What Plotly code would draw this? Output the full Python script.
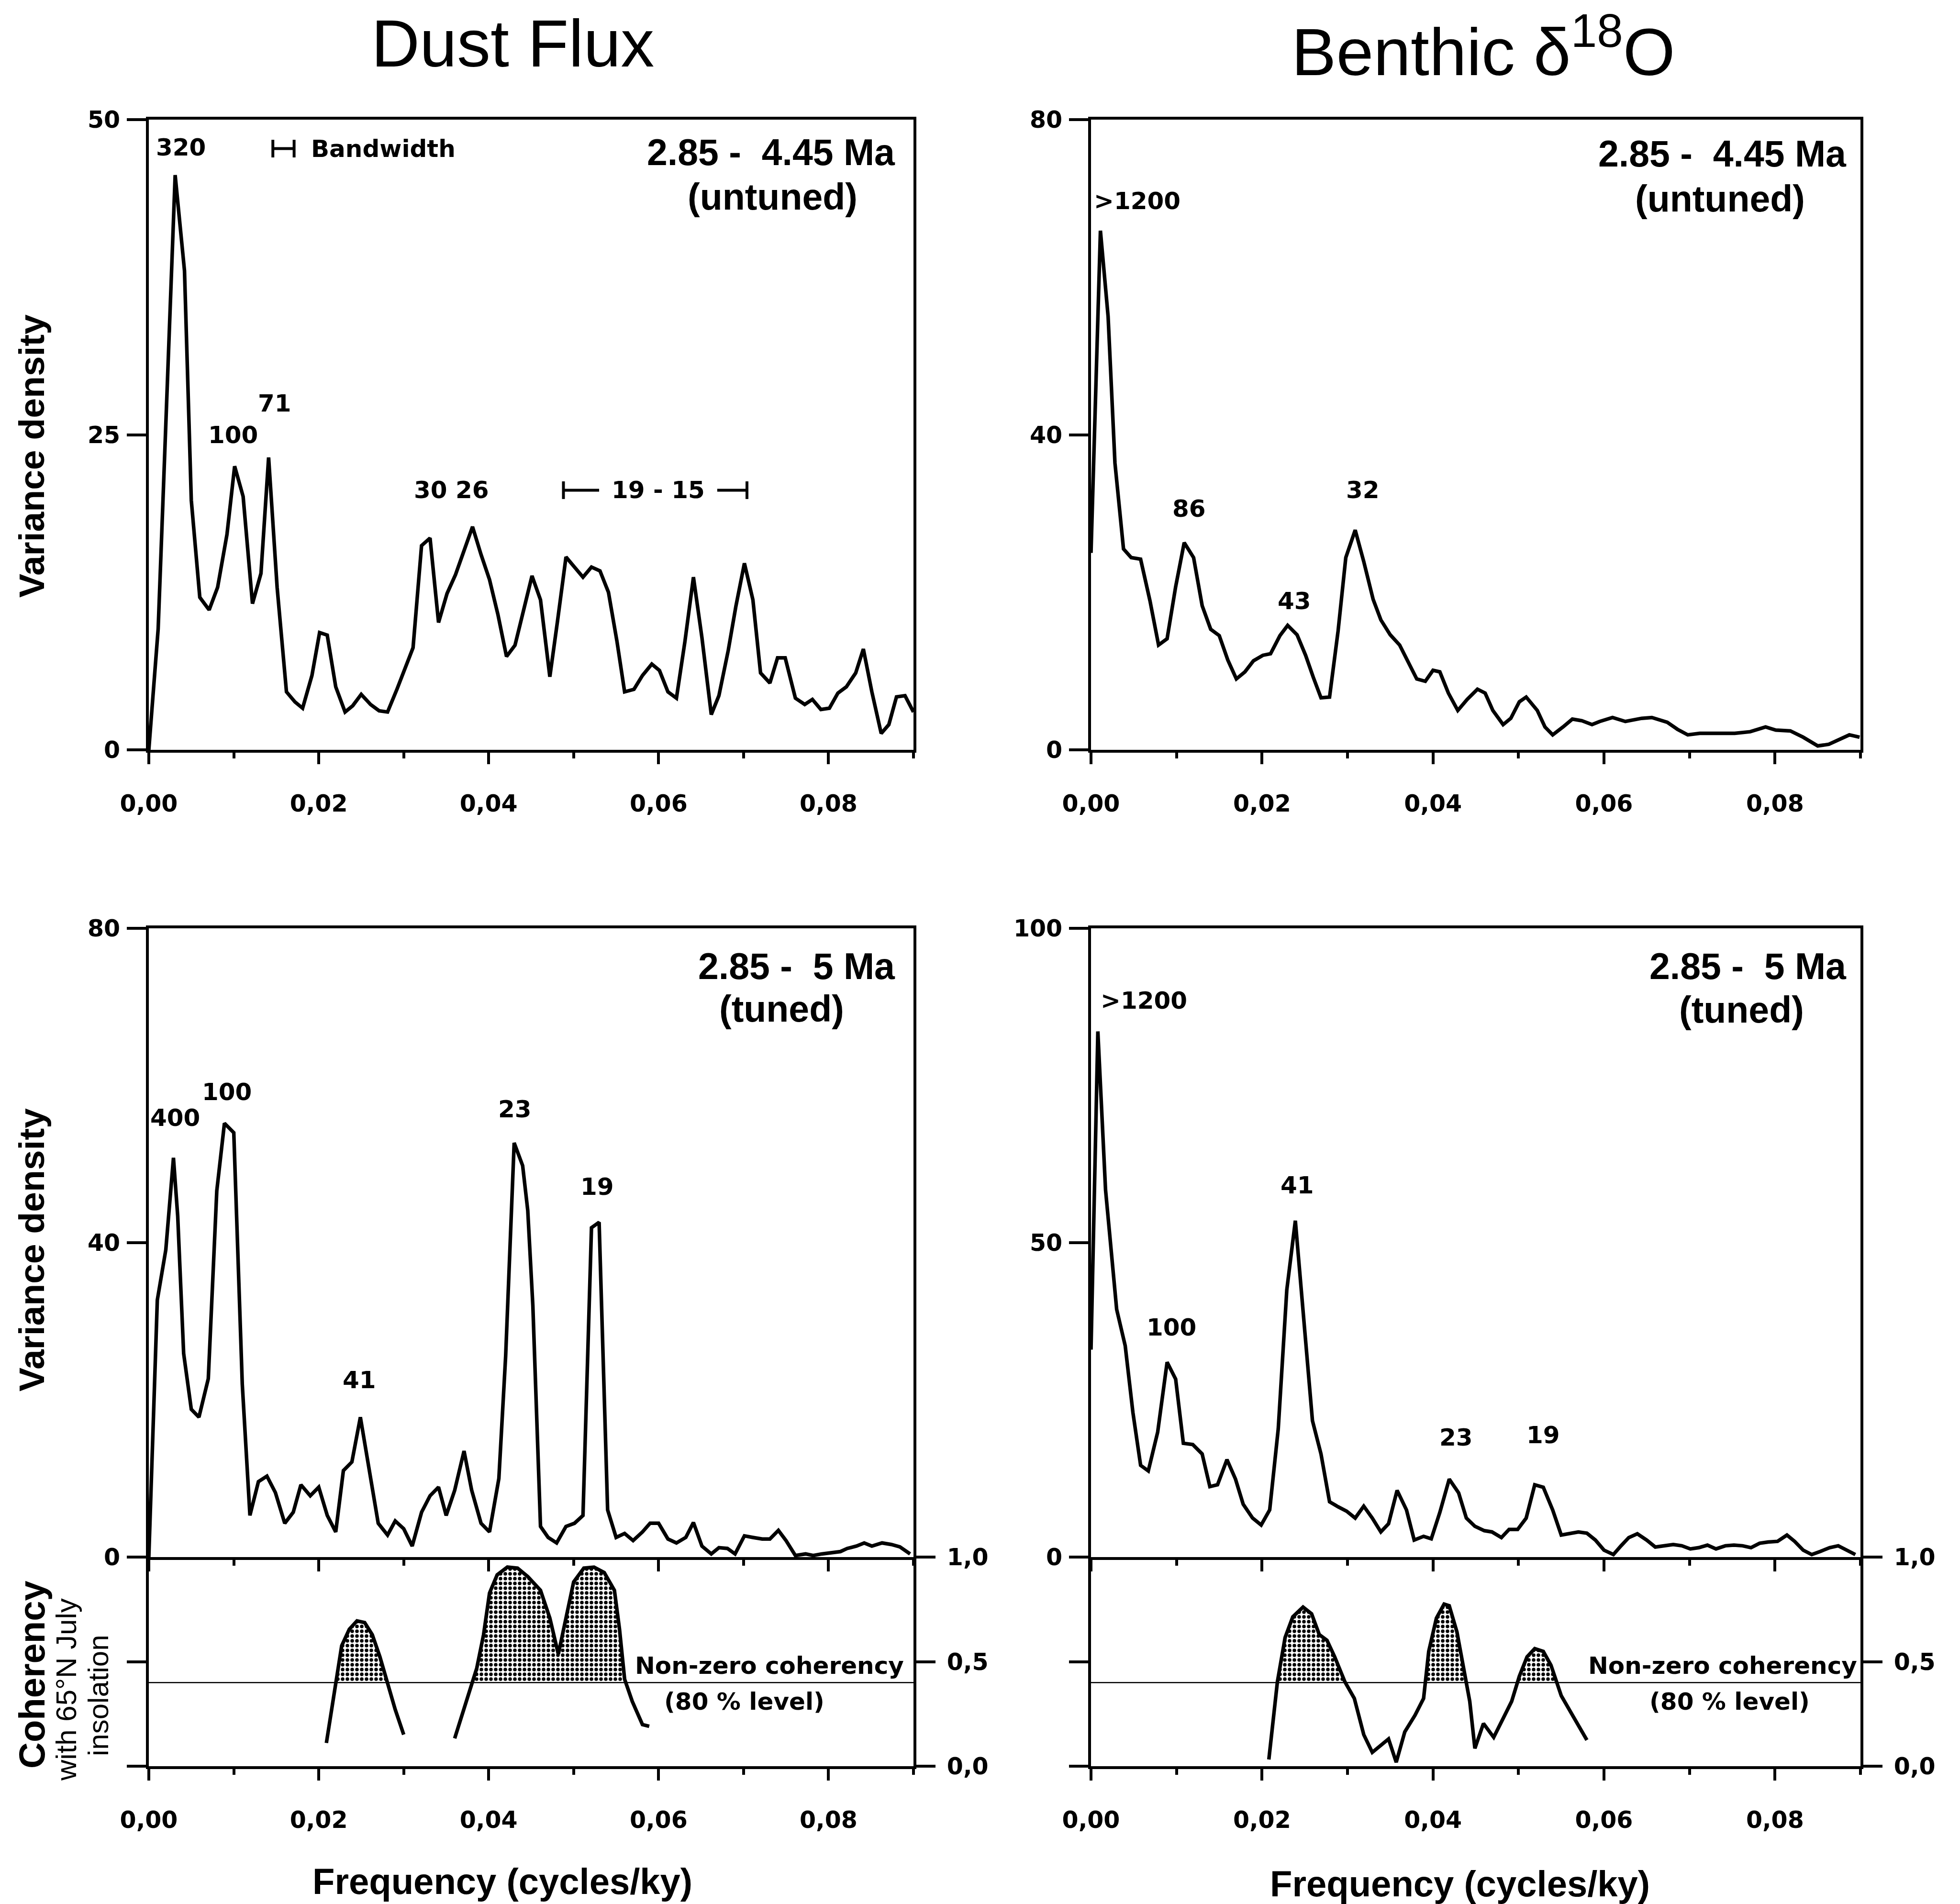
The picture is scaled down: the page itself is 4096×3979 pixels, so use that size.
import plotly.graph_objects as go

# ---------------- data ----------------
# Dust flux, 2.85-4.45 Ma (untuned)
F_DUST_UNTUNED = [0, 0.0011, 0.0031, 0.0042, 0.0050, 0.0060, 0.0071, 0.0081, 0.0092, 0.0101,
                  0.0111, 0.0122, 0.0132, 0.0141, 0.0151, 0.0162, 0.0172, 0.0181, 0.0192, 0.0201,
                  0.0210, 0.0220, 0.0231, 0.0240, 0.0250, 0.0261, 0.0271, 0.0281, 0.0292, 0.0301,
                  0.0311, 0.0321, 0.0331, 0.0341, 0.0351, 0.0361, 0.0371, 0.0381, 0.0391, 0.0401,
                  0.0411, 0.0421, 0.0431, 0.0441, 0.0451, 0.0461, 0.0472, 0.0481, 0.0491, 0.0501,
                  0.0511, 0.0521, 0.0531, 0.0541, 0.0551, 0.0560, 0.0571, 0.0581, 0.0592, 0.0601,
                  0.0611, 0.0621, 0.0631, 0.0641, 0.0651, 0.0662, 0.0671, 0.0682, 0.0691, 0.0701,
                  0.0711, 0.0720, 0.0731, 0.0740, 0.0749, 0.0761, 0.0772, 0.0781, 0.0791, 0.0801,
                  0.0811, 0.0821, 0.0832, 0.0841, 0.0851, 0.0862, 0.0871, 0.0880, 0.0890, 0.0900]
V_DUST_UNTUNED = [0, 9.6, 45.6, 38.0, 19.8, 12.1, 11.1, 12.9, 17.1, 22.5,
                  20.1, 11.6, 14.0, 23.2, 12.9, 4.6, 3.8, 3.3, 5.9, 9.3,
                  9.1, 5.0, 3.0, 3.5, 4.4, 3.6, 3.1, 3.0, 4.8, 6.4,
                  8.1, 16.2, 16.8, 10.1, 12.4, 13.9, 15.9, 17.7, 15.5, 13.5,
                  10.7, 7.4, 8.3, 11.1, 13.8, 11.9, 5.8, 10.2, 15.3, 14.5,
                  13.7, 14.5, 14.2, 12.5, 8.6, 4.6, 4.8, 5.9, 6.8, 6.3,
                  4.6, 4.1, 8.6, 13.7, 8.9, 2.8, 4.3, 7.9, 11.4, 14.8,
                  11.9, 6.1, 5.3, 7.3, 7.3, 4.1, 3.6, 4.0, 3.2, 3.3,
                  4.5, 5.0, 6.1, 8.0, 4.6, 1.3, 2.0, 4.2, 4.3, 3.0]

# Benthic d18O, 2.85-4.45 Ma (untuned)
F_O18_UNTUNED = [0, 0.0011, 0.0020, 0.0028, 0.0038, 0.0047, 0.0058, 0.0069, 0.0079, 0.0089,
                 0.0099, 0.0109, 0.0120, 0.0130, 0.0140, 0.0150, 0.0160, 0.0170, 0.0180, 0.0190,
                 0.0201, 0.0210, 0.0221, 0.0230, 0.0241, 0.0251, 0.0260, 0.0269, 0.0279, 0.0289,
                 0.0298, 0.0309, 0.0319, 0.0330, 0.0339, 0.0350, 0.0361, 0.0371, 0.0381, 0.0391,
                 0.0400, 0.0408, 0.0418, 0.0429, 0.0440, 0.0452, 0.0461, 0.0470, 0.0482, 0.0491,
                 0.0501, 0.0509, 0.0522, 0.0531, 0.0540, 0.0552, 0.0563, 0.0574, 0.0586, 0.0595,
                 0.0610, 0.0625, 0.0644, 0.0656, 0.0674, 0.0686, 0.0698, 0.0712, 0.0729, 0.0753,
                 0.0771, 0.0789, 0.0801, 0.0818, 0.0833, 0.0850, 0.0863, 0.0875, 0.0887, 0.0899]
V_O18_UNTUNED = [25, 65.9, 55.0, 36.4, 25.5, 24.4, 24.2, 18.9, 13.3, 14.1,
                 20.7, 26.3, 24.4, 18.3, 15.3, 14.5, 11.4, 9.0, 9.9, 11.3,
                 12.0, 12.2, 14.5, 15.8, 14.6, 12.0, 9.2, 6.6, 6.7, 15.1,
                 24.4, 27.9, 23.9, 19.1, 16.5, 14.6, 13.3, 11.2, 9.0, 8.7,
                 10.1, 9.9, 7.2, 5.0, 6.4, 7.7, 7.2, 5.0, 3.2, 4.0,
                 6.1, 6.7, 5.0, 2.9, 1.9, 2.9, 3.9, 3.7, 3.2, 3.6,
                 4.1, 3.6, 4.0, 4.1, 3.5, 2.6, 1.9, 2.1, 2.1, 2.1,
                 2.3, 2.9, 2.5, 2.4, 1.6, 0.5, 0.7, 1.3, 1.9, 1.6]

# Dust flux, 2.85-5 Ma (tuned)
F_DUST_TUNED = [0, 0.0010, 0.0020, 0.0029, 0.0034, 0.0041, 0.0050, 0.0059, 0.0070, 0.0080,
                0.0089, 0.0100, 0.0110, 0.0119, 0.0129, 0.0139, 0.0149, 0.0160, 0.0170, 0.0179,
                0.0190, 0.0200, 0.0210, 0.0220, 0.0229, 0.0239, 0.0249, 0.0260, 0.0270, 0.0281,
                0.0290, 0.0300, 0.0310, 0.0321, 0.0331, 0.0341, 0.0350, 0.0360, 0.0371, 0.0380,
                0.0391, 0.0401, 0.0412, 0.0420, 0.0430, 0.0440, 0.0446, 0.0452, 0.0461, 0.0470,
                0.0480, 0.0491, 0.0501, 0.0511, 0.0521, 0.0530, 0.0540, 0.0550, 0.0560, 0.0570,
                0.0581, 0.0590, 0.0600, 0.0611, 0.0621, 0.0632, 0.0641, 0.0651, 0.0662, 0.0671,
                0.0681, 0.0690, 0.0701, 0.0711, 0.0722, 0.0731, 0.0741, 0.0750, 0.0761, 0.0773,
                0.0782, 0.0792, 0.0803, 0.0814, 0.0822, 0.0833, 0.0842, 0.0851, 0.0863, 0.0874,
                0.0884, 0.0896]
V_DUST_TUNED = [0, 32.7, 39.1, 50.8, 43.4, 25.9, 18.8, 17.8, 22.7, 46.6,
                55.2, 54.0, 22.0, 5.3, 9.6, 10.3, 8.2, 4.3, 5.7, 9.2,
                7.8, 8.9, 5.3, 3.2, 11.0, 12.1, 17.8, 10.7, 4.3, 2.8,
                4.6, 3.6, 1.4, 5.7, 7.8, 8.9, 5.3, 8.5, 13.5, 8.5,
                4.3, 3.2, 10.0, 25.6, 52.7, 49.8, 44.1, 32.0, 3.9, 2.5,
                1.8, 3.9, 4.3, 5.3, 41.9, 42.6, 6.0, 2.5, 3.0, 2.1,
                3.2, 4.3, 4.3, 2.3, 1.8, 2.5, 4.4, 1.4, 0.4, 1.2,
                1.1, 0.4, 2.7, 2.5, 2.3, 2.3, 3.4, 2.1, 0.2, 0.4,
                0.2, 0.4, 0.6, 0.7, 1.1, 1.4, 1.8, 1.4, 1.8, 1.6,
                1.3, 0.4]

# Benthic d18O, 2.85-5 Ma (tuned)
F_O18_TUNED = [0, 0.0008, 0.0017, 0.0023, 0.0030, 0.0040, 0.0049, 0.0058, 0.0067, 0.0078,
               0.0089, 0.0099, 0.0108, 0.0119, 0.0130, 0.0139, 0.0148, 0.0159, 0.0169, 0.0178,
               0.0189, 0.0199, 0.0209, 0.0219, 0.0229, 0.0239, 0.0248, 0.0259, 0.0269, 0.0279,
               0.0289, 0.0299, 0.0309, 0.0319, 0.0329, 0.0339, 0.0348, 0.0358, 0.0369, 0.0378,
               0.0389, 0.0398, 0.0408, 0.0419, 0.0430, 0.0439, 0.0449, 0.0460, 0.0469, 0.0480,
               0.0489, 0.0499, 0.0509, 0.0519, 0.0529, 0.0540, 0.0550, 0.0560, 0.0570, 0.0580,
               0.0590, 0.0600, 0.0611, 0.0620, 0.0629, 0.0639, 0.0650, 0.0660, 0.0670, 0.0681,
               0.0691, 0.0701, 0.0711, 0.0721, 0.0731, 0.0742, 0.0752, 0.0762, 0.0772, 0.0782,
               0.0792, 0.0803, 0.0814, 0.0823, 0.0833, 0.0843, 0.0853, 0.0864, 0.0874, 0.0884,
               0.0894]
V_O18_TUNED = [33, 83.6, 58.4, 49.6, 39.4, 33.6, 23.0, 14.6, 13.7, 19.9,
               31.0, 28.3, 18.1, 17.9, 16.4, 11.2, 11.5, 15.5, 12.4, 8.4,
               6.2, 5.1, 7.5, 20.4, 42.5, 53.5, 39.8, 21.7, 16.4, 8.8,
               8.0, 7.3, 6.2, 8.1, 6.2, 4.0, 5.3, 10.6, 7.5, 2.7,
               3.3, 2.9, 7.1, 12.4, 10.2, 6.2, 4.9, 4.2, 4.0, 3.1,
               4.4, 4.4, 6.2, 11.5, 11.1, 7.5, 3.5, 3.8, 4.0, 3.8,
               2.7, 1.1, 0.4, 1.8, 3.1, 3.7, 2.7, 1.6, 1.8, 2.0,
               1.8, 1.3, 1.5, 1.9, 1.3, 1.8, 1.9, 1.8, 1.5, 2.2,
               2.4, 2.5, 3.5, 2.5, 1.1, 0.4, 0.9, 1.5, 1.8, 1.1,
               0.4]

# Coherency with 65N July insolation
COH_DUST_F1 = [0.0209, 0.0218, 0.0227, 0.0236, 0.0245, 0.0254, 0.0263, 0.0272, 0.0281, 0.0290, 0.0300]
COH_DUST_C1 = [0.111, 0.350, 0.576, 0.655, 0.695, 0.687, 0.629, 0.523, 0.390, 0.271, 0.151]
COH_DUST_F2 = [0.0360, 0.0374, 0.0386, 0.0394, 0.0401, 0.0410, 0.0422, 0.0434, 0.0446, 0.0461,
               0.0472, 0.0482, 0.0491, 0.0500, 0.0512, 0.0524, 0.0536, 0.0548, 0.0554, 0.0560,
               0.0569, 0.0581, 0.0589]
COH_DUST_C2 = [0.133, 0.310, 0.469, 0.629, 0.828, 0.915, 0.952, 0.947, 0.907, 0.841,
               0.708, 0.536, 0.708, 0.881, 0.947, 0.952, 0.926, 0.841, 0.655, 0.416,
               0.310, 0.199, 0.191]
COH_O18_F = [0.0208, 0.0218, 0.0227, 0.0236, 0.0248, 0.0258, 0.0267, 0.0276, 0.0285, 0.0297,
             0.0308, 0.0319, 0.0329, 0.0339, 0.0348, 0.0357, 0.0367, 0.0379, 0.0389, 0.0395,
             0.0404, 0.0413, 0.0419, 0.0428, 0.0436, 0.0443, 0.0449, 0.0459, 0.0471, 0.0481,
             0.0492, 0.0501, 0.0510, 0.0519, 0.0529, 0.0538, 0.0550, 0.0565, 0.0580]
COH_O18_C = [0.032, 0.403, 0.615, 0.714, 0.761, 0.729, 0.629, 0.602, 0.523, 0.403,
             0.324, 0.151, 0.066, 0.098, 0.130, 0.019, 0.164, 0.244, 0.324, 0.549,
             0.708, 0.775, 0.767, 0.642, 0.469, 0.310, 0.085, 0.204, 0.138, 0.218,
             0.310, 0.430, 0.523, 0.562, 0.549, 0.483, 0.337, 0.231, 0.125]
COH_THRESHOLD = 0.40          # non-zero coherency, 80 % level

# Axis ticks
X_TICKS = [0.00, 0.02, 0.04, 0.06, 0.08]
X_MINOR = [0.01, 0.03, 0.05, 0.07, 0.09]
Y_TICKS_TL = [0, 25, 50]
Y_TICKS_TR = [0, 40, 80]
Y_TICKS_BL = [0, 40, 80]
Y_TICKS_BR = [0, 50, 100]
COH_TICKS = [0.0, 0.5, 1.0]

# Peak labels (period in ky) and their positions
PK_TL_TXT = ["320", "100", "71", "30 26"]
PK_TL_F = [0.0038, 0.0099, 0.0148, 0.0356]
PK_TL_V = [47.8, 25.0, 27.5, 20.6]
PK_TR_TXT = [">1200", "86", "43", "32"]
PK_TR_F = [0.0054, 0.0115, 0.0238, 0.0318]
PK_TR_V = [69.7, 30.6, 18.9, 33.0]
PK_BL_TXT = ["400", "100", "41", "23", "19"]
PK_BL_F = [0.0031, 0.0092, 0.0248, 0.0431, 0.0528]
PK_BL_V = [55.9, 59.2, 22.5, 57.0, 47.1]
PK_BR_TXT = [">1200", "100", "41", "23", "19"]
PK_BR_F = [0.0062, 0.0094, 0.0241, 0.0427, 0.0529]
PK_BR_V = [88.5, 36.5, 59.1, 19.0, 19.4]

BANDWIDTH = [0.0146, 0.0171]
BAND_19_15 = [0.0488, 0.0530, 0.0669, 0.0704]

# ---------------- layout geometry (output pixels) ----------------
W, H = 4096, 3979
def fx(p):
    return p / W
def fy(p):
    return 1 - p / H

X_LEFT = [fx(311), fx(1909)]
X_RIGHT = [fx(2280), fx(3888)]
Y_TOP = [fy(1567), fy(250)]
Y_BSPEC = [fy(3254), fy(1940)]
Y_BCOH = [fy(3691), fy(3254)]

LW = 6
CW = 7.5
BLACK = "black"
TICKFONT = dict(family="DejaVu Sans", size=49, color=BLACK, weight="bold")
LABFONT = dict(family="DejaVu Sans", size=50, color=BLACK, weight="bold")

fig = go.Figure()

def line_trace(x, y, xa, ya, width=CW):
    return go.Scatter(x=x, y=y, xaxis=xa, yaxis=ya, mode="lines",
                      line=dict(color=BLACK, width=width), hoverinfo="skip", showlegend=False)

def above_polys(f, c, thr):
    xs, ys = [], []
    for i in range(len(f)):
        if i > 0 and (c[i - 1] - thr) * (c[i] - thr) < 0:
            t = (thr - c[i - 1]) / (c[i] - c[i - 1])
            xc = f[i - 1] + t * (f[i] - f[i - 1])
            xs.append(xc)
            ys.append(thr)
            if c[i] < thr:
                xs.append(None)
                ys.append(None)
        if c[i] > thr:
            xs.append(f[i])
            ys.append(c[i])
    return xs, ys

def fill_trace(f, c, xa, ya):
    xs, ys = above_polys(f, c, COH_THRESHOLD)
    return go.Scatter(x=xs, y=ys, xaxis=xa, yaxis=ya, mode="lines", fill="toself",
                      line=dict(width=0, color="rgba(0,0,0,0)"),
                      fillcolor="white",
                      fillpattern=dict(shape=".", size=10, solidity=0.45,
                                       fgcolor=BLACK, bgcolor="white", fillmode="replace"),
                      hoverinfo="skip", showlegend=False)

# spectra
fig.add_trace(line_trace(F_DUST_UNTUNED, V_DUST_UNTUNED, "x", "y"))
fig.add_trace(line_trace(F_O18_UNTUNED, V_O18_UNTUNED, "x2", "y2"))
fig.add_trace(line_trace(F_DUST_TUNED, V_DUST_TUNED, "x3", "y3"))
fig.add_trace(line_trace(F_O18_TUNED, V_O18_TUNED, "x5", "y5"))

# coherency
fig.add_trace(fill_trace(COH_DUST_F1, COH_DUST_C1, "x4", "y4"))
fig.add_trace(fill_trace(COH_DUST_F2, COH_DUST_C2, "x4", "y4"))
fig.add_trace(fill_trace(COH_O18_F, COH_O18_C, "x6", "y6"))
fig.add_trace(line_trace([0, 0.09], [COH_THRESHOLD, COH_THRESHOLD], "x4", "y4", width=2.5))
fig.add_trace(line_trace([0, 0.09], [COH_THRESHOLD, COH_THRESHOLD], "x6", "y6", width=2.5))
fig.add_trace(line_trace(COH_DUST_F1, COH_DUST_C1, "x4", "y4"))
fig.add_trace(line_trace(COH_DUST_F2, COH_DUST_C2, "x4", "y4"))
fig.add_trace(line_trace(COH_O18_F, COH_O18_C, "x6", "y6"))

def xaxis(domain, anchor, labels=True, mirror=False):
    return dict(domain=domain, anchor=anchor, range=[0, 0.09], showgrid=False, zeroline=False,
                automargin=False,
                showline=True, linecolor=BLACK, linewidth=LW, mirror=mirror,
                ticks="outside", tickcolor=BLACK, tickwidth=LW, ticklen=24,
                tickmode="array", tickvals=X_TICKS, tickformat=".2f",
                showticklabels=labels, tickfont=TICKFONT, ticklabelstandoff=40,
                minor=dict(tickmode="array", tickvals=X_MINOR, ticks="outside",
                           ticklen=12, tickwidth=LW, tickcolor=BLACK))

def yaxis(domain, anchor, rng, tv):
    return dict(domain=domain, anchor=anchor, range=rng, showgrid=False, zeroline=False,
                automargin=False,
                showline=True, linecolor=BLACK, linewidth=LW, mirror=True,
                ticks="outside", tickcolor=BLACK, tickwidth=LW, ticklen=40,
                tickmode="array", tickvals=tv, tickfont=TICKFONT, ticklabelstandoff=4)

def cohaxis(domain, anchor):
    return dict(domain=domain, anchor=anchor, range=[0, 1], side="right", showgrid=False,
                zeroline=False, automargin=False,
                showline=True, linecolor=BLACK, linewidth=LW, mirror="ticks",
                ticks="outside", tickcolor=BLACK, tickwidth=LW, ticklen=40,
                tickmode="array", tickvals=COH_TICKS, tickformat=".1f", tickfont=TICKFONT,
                ticklabelstandoff=14)

fig.update_layout(
    width=W, height=H, margin=dict(l=0, r=0, t=0, b=0, pad=0, autoexpand=False),
    paper_bgcolor="white", plot_bgcolor="white", separators=", ",
    showlegend=False,
    xaxis=xaxis(X_LEFT, "y", True, True),
    yaxis=yaxis(Y_TOP, "x", [0, 50], Y_TICKS_TL),
    xaxis2=xaxis(X_RIGHT, "y2", True, True),
    yaxis2=yaxis(Y_TOP, "x2", [0, 80], Y_TICKS_TR),
    xaxis3=xaxis(X_LEFT, "y3", False, True),
    yaxis3=yaxis(Y_BSPEC, "x3", [0, 80], Y_TICKS_BL),
    xaxis4=xaxis(X_LEFT, "y4", True, False),
    yaxis4=cohaxis(Y_BCOH, "x4"),
    xaxis5=xaxis(X_RIGHT, "y5", False, True),
    yaxis5=yaxis(Y_BSPEC, "x5", [0, 100], Y_TICKS_BR),
    xaxis6=xaxis(X_RIGHT, "y6", True, False),
    yaxis6=cohaxis(Y_BCOH, "x6"),
)

anns = []
def ann(text, x, y, xref, yref, font, xanchor="center", yanchor="middle", angle=0):
    anns.append(dict(text=text, x=x, y=y, xref=xref, yref=yref, showarrow=False, font=font,
                     xanchor=xanchor, yanchor=yanchor, textangle=angle))

SANS = "Liberation Sans, Arial, sans-serif"
TITLEFONT = dict(family=SANS, size=140, color=BLACK)
BOLD76 = dict(family=SANS, size=77, color=BLACK, weight="bold")
AXTITLE = dict(family=SANS, size=75, color=BLACK, weight="bold")

ann("Dust Flux", fx(1071), fy(91), "paper", "paper", TITLEFONT)
ann("Benthic δ<sup>18</sup>O", fx(3100), fy(98), "paper", "paper", TITLEFONT)

NB = "\u00a0"
# period range labels
ann("2.85 -" + NB + " 4.45 Ma", 0.0880, 47.4, "x", "y", BOLD76, xanchor="right")
ann("(untuned)", 0.0734, 43.9, "x", "y", BOLD76)
ann("2.85 -" + NB + " 4.45 Ma", 0.0885, 75.7, "x2", "y2", BOLD76, xanchor="right")
ann("(untuned)", 0.0736, 70.0, "x2", "y2", BOLD76)
ann("2.85 -" + NB + " 5 Ma", 0.0880, 75.2, "x3", "y3", BOLD76, xanchor="right")
ann("(tuned)", 0.0745, 69.8, "x3", "y3", BOLD76)
ann("2.85 -" + NB + " 5 Ma", 0.0885, 94.0, "x5", "y5", BOLD76, xanchor="right")
ann("(tuned)", 0.0761, 87.1, "x5", "y5", BOLD76)

for txt, f, v in zip(PK_TL_TXT, PK_TL_F, PK_TL_V):
    ann(txt, f, v, "x", "y", LABFONT)
for txt, f, v in zip(PK_TR_TXT, PK_TR_F, PK_TR_V):
    ann(txt, f, v, "x2", "y2", LABFONT)
for txt, f, v in zip(PK_BL_TXT, PK_BL_F, PK_BL_V):
    ann(txt, f, v, "x3", "y3", LABFONT)
for txt, f, v in zip(PK_BR_TXT, PK_BR_F, PK_BR_V):
    ann(txt, f, v, "x5", "y5", LABFONT)

# bandwidth marker and 19-15 bracket
ann("Bandwidth", 0.0190, 47.7, "x", "y", LABFONT, xanchor="left")
ann("19 - 15", (BAND_19_15[1] + BAND_19_15[2]) / 2, 20.6, "x", "y", LABFONT)
shapes = []
def seg(x0, y0, x1, y1, xref, yref, w=LW):
    shapes.append(dict(type="line", x0=x0, y0=y0, x1=x1, y1=y1, xref=xref, yref=yref,
                       line=dict(color=BLACK, width=w)))
seg(BANDWIDTH[0], 47.7, BANDWIDTH[1], 47.7, "x", "y")
seg(BANDWIDTH[0], 47.0, BANDWIDTH[0], 48.4, "x", "y")
seg(BANDWIDTH[1], 47.0, BANDWIDTH[1], 48.4, "x", "y")
seg(BAND_19_15[0], 20.6, BAND_19_15[1], 20.6, "x", "y")
seg(BAND_19_15[0], 19.9, BAND_19_15[0], 21.3, "x", "y")
seg(BAND_19_15[2], 20.6, BAND_19_15[3], 20.6, "x", "y")
seg(BAND_19_15[3], 19.9, BAND_19_15[3], 21.3, "x", "y")

# coherency annotations
ann("Non-zero coherency", 0.0890, 0.48, "x4", "y4", LABFONT, xanchor="right")
ann("(80 % level)", 0.0701, 0.31, "x4", "y4", LABFONT)
ann("Non-zero coherency", 0.0897, 0.48, "x6", "y6", LABFONT, xanchor="right")
ann("(80 % level)", 0.0747, 0.31, "x6", "y6", LABFONT)

# axis titles
ann("Variance density", fx(66), fy(953), "paper", "paper", AXTITLE, angle=-90)
ann("Variance density", fx(66), fy(2612), "paper", "paper", AXTITLE, angle=-90)
ann("Coherency", fx(66), fy(3500), "paper", "paper",
    dict(family=SANS, size=76, color=BLACK, weight="bold"), angle=-90)
ann("with 65°N July", fx(138), fy(3531), "paper", "paper",
    dict(family=SANS, size=60, color=BLACK), angle=-90)
ann("insolation", fx(205), fy(3543), "paper", "paper",
    dict(family=SANS, size=60, color=BLACK), angle=-90)
ann("Frequency (cycles/ky)", fx(1050), fy(3931), "paper", "paper",
    dict(family=SANS, size=76, color=BLACK, weight="bold"))
ann("Frequency (cycles/ky)", fx(3051), fy(3936), "paper", "paper",
    dict(family=SANS, size=76, color=BLACK, weight="bold"))

fig.update_layout(annotations=anns, shapes=shapes)
fig.write_html("out.html")
